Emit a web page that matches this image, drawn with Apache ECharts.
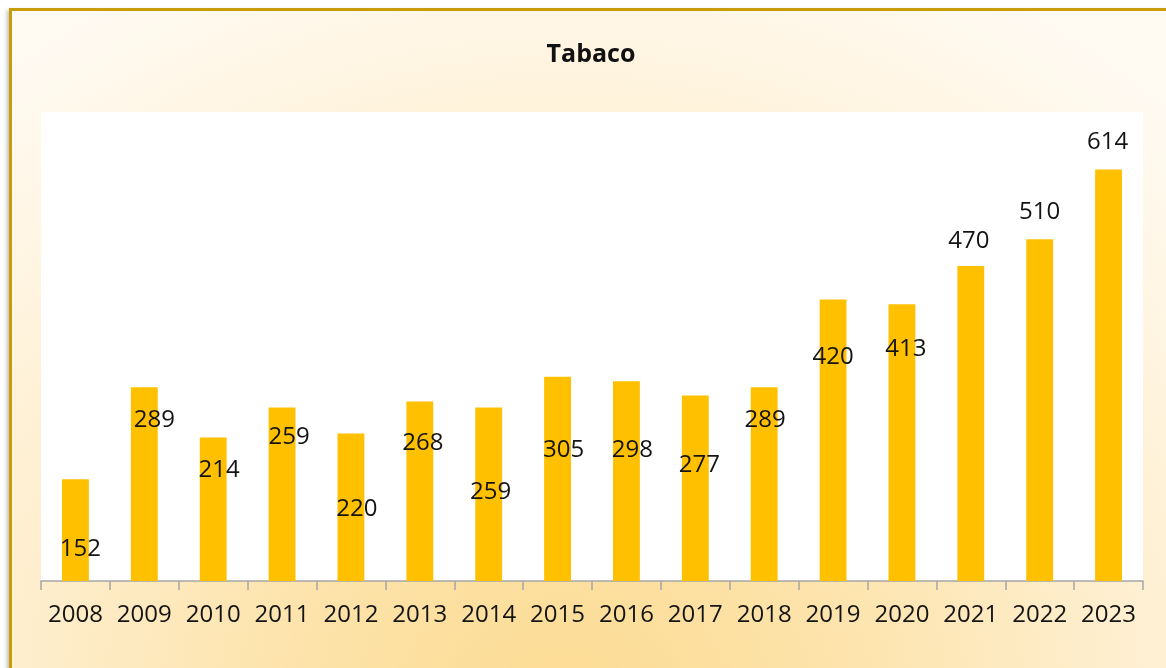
<!DOCTYPE html>
<html>
<head>
<meta charset="utf-8">
<script src="https://cdn.jsdelivr.net/npm/echarts@6/dist/echarts.min.js"></script>
<style>
  html, body { margin: 0; padding: 0; background: #ffffff; overflow: hidden; }
  #frame {
    position: absolute; left: 9px; top: 8px; width: 1200px; height: 700px;
    border-left: 3px solid #C99C0A; border-top: 3px solid #C99C0A;
    background: radial-gradient(ellipse 900px 820px at 46% 100%, #FCDB92 0%, #FDE3AA 30%, #FEEDCA 58%, #FFF6E6 85%, #FFFAF2 100%);
    box-shadow: -2px 2px 4px rgba(0,0,0,0.25);
  }
  #chart { position: absolute; left: 0; top: 0; width: 1166px; height: 668px; }
</style>
</head>
<body>
<div id="frame"></div>
<div id="chart"></div>
<script>
// ---- data ----
const title = 'Tabaco';
const years = ['2008','2009','2010','2011','2012','2013','2014','2015','2016','2017','2018','2019','2020','2021','2022','2023'];
const values = [152, 289, 214, 259, 220, 268, 259, 305, 298, 277, 289, 420, 413, 470, 510, 614];

// ---- label placement (manually moved labels in the original, px relative to bar top-centre) ----
const labelNudge = [
  [5, 70], [10, 33], [6, 33], [7, 30], [6, 76], [3, 42], [2, 85], [6, 74],
  [6, 69], [4, 70], [1, 33], [0, 58], [4, 45], [-2, -25], [0, -27], [-1, -27]
];

const chart = echarts.init(document.getElementById('chart'), null, { renderer: 'canvas' });
const FONT = '"Open Sans", "Noto Sans", sans-serif';

const seriesData = values.map((v, i) => ({
  value: v,
  label: { offset: labelNudge[i] }
}));

chart.setOption({
  backgroundColor: 'transparent',
  animation: false,
  title: {
    text: title,
    left: 586, top: 50, textAlign: 'center', textVerticalAlign: 'middle',
    textStyle: { fontFamily: FONT, fontSize: 25, fontWeight: 'bold', color: '#111' }
  },
  grid: {
    left: 41, right: 23, top: 112, bottom: 87,
    show: true, backgroundColor: '#ffffff', borderWidth: 0
  },
  xAxis: {
    type: 'category',
    data: years,
    boundaryGap: true,
    axisLine: { show: true, lineStyle: { color: '#A6A6A6', width: 1.5 } },
    axisTick: { show: true, length: 9, alignWithLabel: false, lineStyle: { color: '#A6A6A6', width: 1.5 } },
    axisLabel: { interval: 0, margin: 22, fontFamily: FONT, fontSize: 24, color: '#141414' }
  },
  yAxis: {
    type: 'value', min: 0, max: 700, interval: 100,
    show: false, splitLine: { show: false }
  },
  series: [{
    type: 'bar',
    data: seriesData,
    barWidth: '39%',
    itemStyle: { color: '#FFC000' },
    label: {
      show: true,
      position: ['50%', 0],
      align: 'center',
      verticalAlign: 'middle',
      fontFamily: FONT, fontSize: 24, color: '#141414'
    }
  }]
});
</script>
</body>
</html>
